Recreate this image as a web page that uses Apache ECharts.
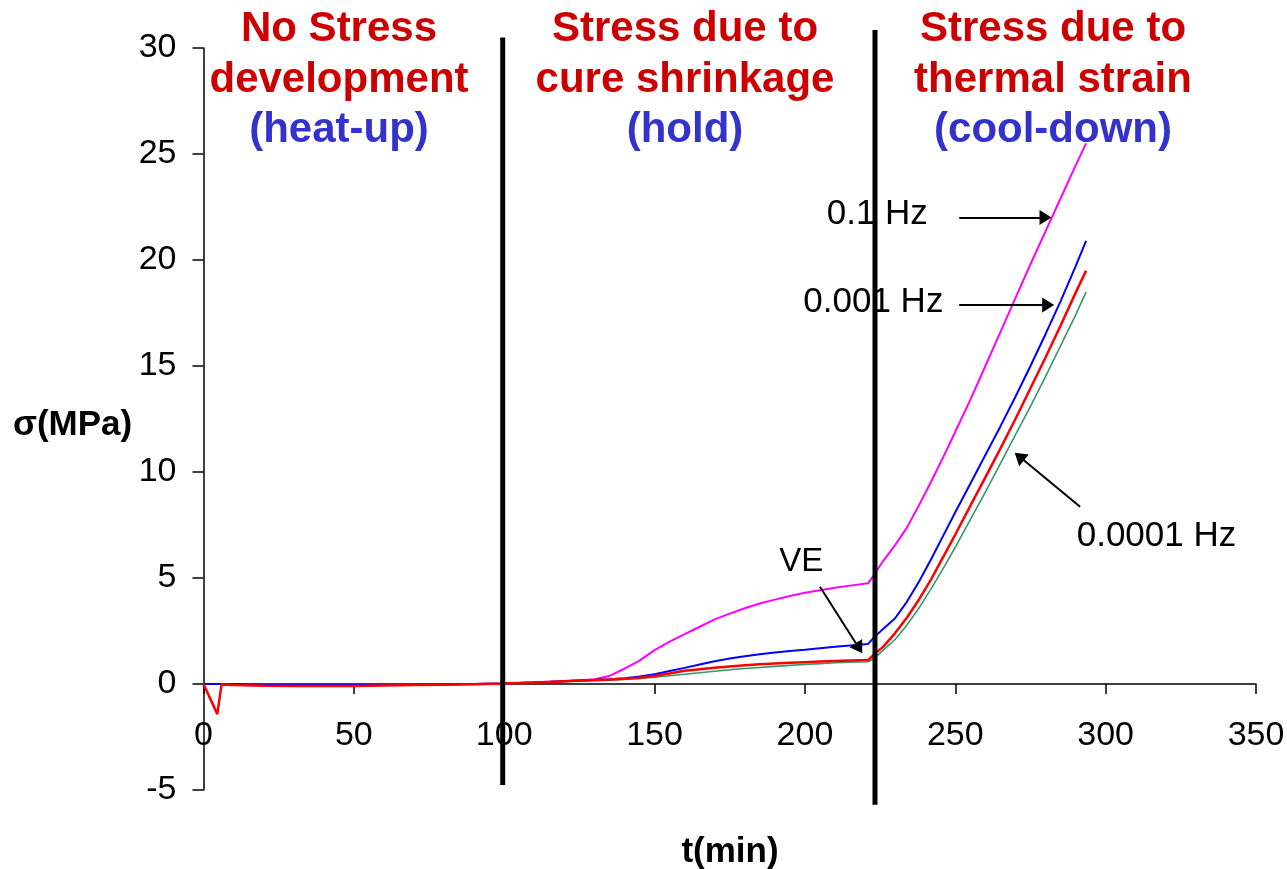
<!DOCTYPE html>
<html><head><meta charset="utf-8">
<script src="https://cdn.jsdelivr.net/npm/echarts@6/dist/echarts.min.js"></script>
<style>html,body{margin:0;padding:0;background:#fff;} #c{width:1287px;height:869px;}</style>
</head><body><div id="c"></div>
<script>
// ---- data ----
const times = [0, 2, 4.6, 6, 10, 20, 30, 40, 50, 60, 70, 80, 90,
  100, 105, 110, 115, 120, 125, 130, 135, 140, 145, 150, 155, 160, 165, 170, 175, 180, 185, 190, 195, 200, 205, 210, 215, 221,
  223, 226, 230, 234, 238, 242, 246, 250, 255, 260, 265, 270, 275, 280, 285, 290, 293.5];
// 0.1 Hz (magenta)
const stress01Hz = [0, 0, 0, 0, 0, -0.02, -0.03, -0.03, -0.03, -0.02, -0.02, -0.01, 0,
  0.02, 0.05, 0.08, 0.11, 0.14, 0.17, 0.22, 0.38, 0.72, 1.1, 1.6, 2.0, 2.35, 2.7, 3.05, 3.32, 3.57, 3.8, 3.98, 4.15, 4.3, 4.42, 4.54, 4.64, 4.75,
  5.15, 5.8, 6.55, 7.4, 8.45, 9.55, 10.7, 11.9, 13.4, 15.0, 16.6, 18.2, 19.8, 21.35, 22.9, 24.45, 25.5];
// 0.001 Hz (blue)
const stress0001Hz = [0, 0, 0, 0, 0, -0.02, -0.03, -0.03, -0.03, -0.02, -0.02, -0.01, 0,
  0.02, 0.05, 0.07, 0.1, 0.13, 0.16, 0.19, 0.22, 0.27, 0.35, 0.46, 0.61, 0.76, 0.92, 1.07, 1.2, 1.31, 1.4, 1.49, 1.56, 1.62, 1.69, 1.76, 1.82, 1.89,
  2.2, 2.6, 3.1, 3.9, 4.85, 5.9, 7.0, 8.1, 9.45, 10.8, 12.15, 13.55, 15.0, 16.5, 18.05, 19.7, 20.9];
// VE (red)
const stressVE = [0, -0.62, -1.42, -0.02, -0.05, -0.08, -0.1, -0.1, -0.09, -0.07, -0.05, -0.03, -0.01,
  0.02, 0.05, 0.07, 0.1, 0.13, 0.16, 0.19, 0.21, 0.25, 0.3, 0.38, 0.5, 0.62, 0.7, 0.77, 0.83, 0.88, 0.93, 0.97, 1.0, 1.03, 1.06, 1.09, 1.11, 1.13,
  1.4, 1.75, 2.4, 3.15, 4.0, 4.95, 6.0, 7.05, 8.4, 9.75, 11.1, 12.5, 13.95, 15.4, 16.9, 18.45, 19.5];
// 0.0001 Hz (green)
const stress00001Hz = [0, 0, 0, 0, 0, -0.02, -0.03, -0.03, -0.03, -0.02, -0.02, -0.01, 0,
  0.02, 0.04, 0.06, 0.09, 0.11, 0.13, 0.15, 0.18, 0.21, 0.26, 0.32, 0.39, 0.46, 0.53, 0.6, 0.67, 0.73, 0.78, 0.83, 0.88, 0.92, 0.96, 1.0, 1.03, 1.05,
  1.2, 1.6, 2.1, 2.8, 3.6, 4.5, 5.45, 6.45, 7.75, 9.05, 10.4, 11.75, 13.1, 14.5, 15.95, 17.4, 18.5];

const xTicks = [0, 50, 100, 150, 200, 250, 300, 350];
const yTicks = [-5, 0, 5, 10, 15, 20, 25, 30];

// phase boundaries (t) and their vertical extent in data units
const phaseBounds = [99.5, 223.3];
const phaseTop = [30.5, 30.85];
const phaseBottom = [-4.76, -5.7];

// annotation arrows: [t, sigma] from -> to (arrow-head centre)
const arrowLabels = ['0.1 Hz', '0.001 Hz', '0.0001 Hz', 'VE'];
const arrowFrom = [[251.3, 22.0], [251.3, 17.88], [291.5, 8.36], [205.0, 4.59]];
const arrowTo = [[280.0, 22.0], [280.9, 17.88], [271.3, 10.73], [218.0, 1.69]];

const phaseTitles = [
  ['No Stress', 'development', '(heat-up)'],
  ['Stress due to', 'cure shrinkage', '(hold)'],
  ['Stress due to', 'thermal strain', '(cool-down)']
];

// ---- chart ----
const FONT = '"Liberation Sans", Arial, Helvetica, sans-serif';
const RED = '#CC0000', BLUE = '#3333CC';
const pairs = v => times.map((t, i) => [t, v[i]]);

const el = document.getElementById('c');
const chart = echarts.init(el, null, {renderer: 'canvas'});

function mkSeries(name, data, color, width) {
  return {
    name, type: 'line', data: pairs(data), showSymbol: false, symbol: 'none',
    smooth: false, animation: false, silent: true,
    lineStyle: {color, width}, itemStyle: {color}
  };
}

const arrowSeries = mkSeries('VE', stressVE, '#FF0000', 2.5);
arrowSeries.markLine = {
  silent: true, animation: false,
  symbol: ['none', 'triangle'], symbolSize: [15, 12],
  label: {show: false},
  itemStyle: {color: '#000'},
  lineStyle: {color: '#000', width: 2, type: 'solid'},
  emphasis: {disabled: true},
  data: arrowFrom.map((f, i) => [
    {coord: f, lineStyle: {color: '#000', width: 2, type: 'solid'}, itemStyle: {color: '#000'}},
    {coord: arrowTo[i], itemStyle: {color: '#000'}}
  ])
};

const option = {
  animation: false,
  backgroundColor: '#fff',
  grid: {left: 203.5, right: 31, top: 48, bottom: 79, containLabel: false, outerBoundsMode: 'none'},
  xAxis: {
    type: 'value', min: xTicks[0], max: xTicks[xTicks.length - 1], interval: xTicks[1] - xTicks[0],
    axisLine: {show: true, onZero: false, lineStyle: {color: '#000', width: 1.5}},
    axisTick: {show: true, inside: false, length: 10, lineStyle: {color: '#000', width: 1.5}},
    axisLabel: {fontSize: 34, color: '#000', fontFamily: FONT, margin: 35},
    splitLine: {show: false}
  },
  yAxis: {
    type: 'value', min: yTicks[0], max: yTicks[yTicks.length - 1], interval: yTicks[1] - yTicks[0],
    axisLine: {show: true, onZero: false, lineStyle: {color: '#000', width: 1.5}},
    axisTick: {show: true, inside: false, length: 11, lineStyle: {color: '#000', width: 1.5}},
    axisLabel: {fontSize: 34, color: '#000', fontFamily: FONT, margin: 27},
    splitLine: {show: false}
  },
  series: [
    mkSeries('0.0001 Hz', stress00001Hz, '#339966', 1.6),
    mkSeries('0.1 Hz', stress01Hz, '#FF00FF', 2),
    mkSeries('0.001 Hz', stress0001Hz, '#0000FF', 2),
    arrowSeries
  ]
};
chart.setOption(option);

// move the x axis (line, ticks, labels) up to sigma = 0 through the y scale
const yZero = chart.convertToPixel({yAxisIndex: 0}, 0);
const yMin = chart.convertToPixel({yAxisIndex: 0}, yTicks[0]);
chart.setOption({xAxis: {offset: -(yMin - yZero)}});

function txt(text, x, y, font, color, align) {
  return {type: 'text', z: 50, silent: true,
    style: {text, x, y, font, fill: color, align: align || 'center', verticalAlign: 'middle',
      textAlign: align || 'center', textVerticalAlign: 'middle'}};
}
const titleX = [339, 685, 1053];
const titleY = [29, 80, 130.5];
const graphics = [];
phaseTitles.forEach((lines, i) => {
  lines.forEach((ln, j) => {
    graphics.push(txt(ln, titleX[i], titleY[j], 'bold 42px ' + FONT, j === 2 ? BLUE : RED));
  });
});
// axis names
graphics.push(txt('σ(MPa)', 13, 425, 'bold 35px ' + FONT, '#000', 'left'));
graphics.push(txt('t(min)', 730, 852, 'bold 35px ' + FONT, '#000', 'center'));
// annotation labels
const labelPos = [[826.7, 214], [803.3, 302], [1076.7, 536], [779.3, 562]];
const labelSize = [35, 35, 35, 33];
arrowLabels.forEach((l, i) => {
  graphics.push(txt(l, labelPos[i][0], labelPos[i][1], labelSize[i] + 'px ' + FONT, '#000', 'left'));
});
// phase boundary lines through the chart's scales
phaseBounds.forEach((t, i) => {
  const a = chart.convertToPixel({gridIndex: 0}, [t, phaseTop[i]]);
  const b = chart.convertToPixel({gridIndex: 0}, [t, phaseBottom[i]]);
  graphics.push({type: 'line', z: 100, silent: true,
    shape: {x1: a[0], y1: a[1], x2: b[0], y2: b[1]},
    style: {stroke: '#000', lineWidth: 5}});
});
chart.setOption({graphic: {elements: graphics}});
</script>
</body></html>
